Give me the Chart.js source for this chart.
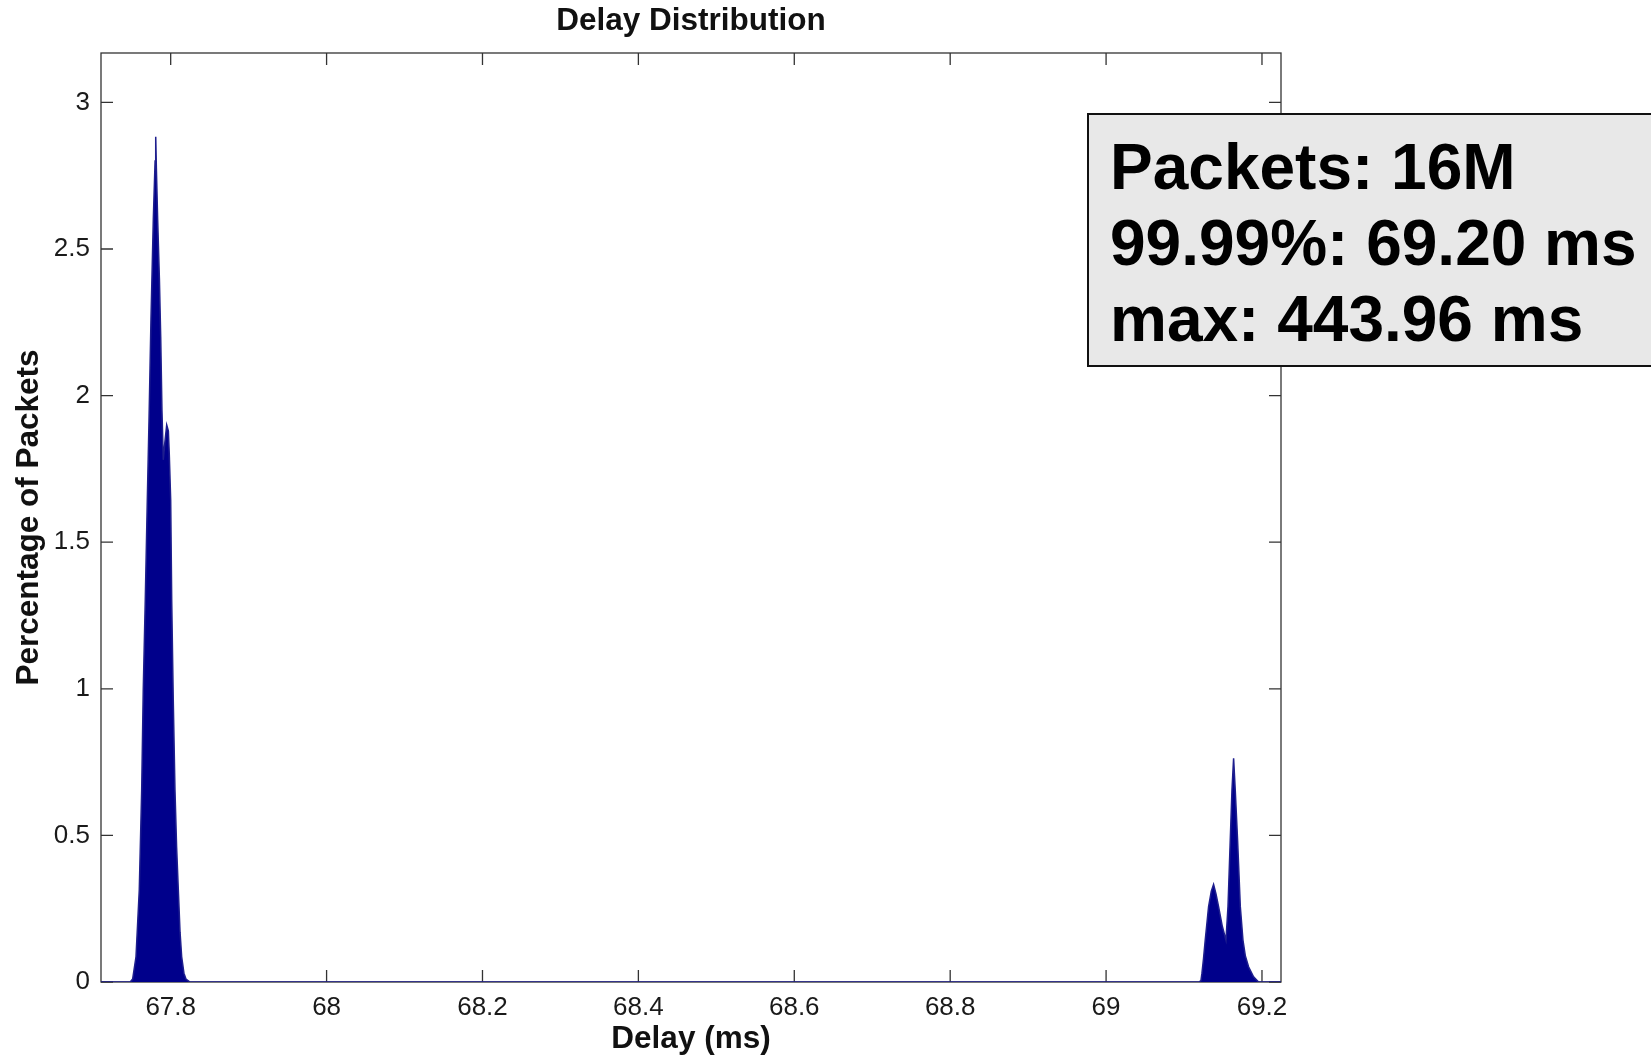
<!DOCTYPE html>
<html>
<head>
<meta charset="utf-8">
<title>Delay Distribution</title>
<script src="https://cdn.jsdelivr.net/npm/chart.js@4.4.1/dist/chart.umd.min.js"></script>
<style>
  html, body { margin: 0; padding: 0; background: #ffffff; }
  canvas { display: block; }
</style>
</head>
<body>
<canvas id="delayChart" width="1651" height="1058"></canvas>
<script>
// Histogram of packet delay (ms) vs share of packets (%)
const delayMs = [
  67.7106, 67.7480, 67.7512, 67.7555, 67.7597, 67.7628, 67.7648, 67.7674, 67.7700,
  67.7722, 67.7747, 67.7777, 67.7800, 67.7808, 67.7816, 67.7833, 67.7855, 67.7872,
  67.7888, 67.7905, 67.7925, 67.7949, 67.7970, 67.7982, 67.8000, 67.8013, 67.8033,
  67.8055, 67.8076, 67.8098, 67.8120, 67.8141, 67.8170, 67.8196, 67.8248,
  69.1190, 69.1217, 69.1230, 69.1250, 69.1272, 69.1315, 69.1350, 69.1379, 69.1410,
  69.1443, 69.1491, 69.1538, 69.1564, 69.1593, 69.1615, 69.1636, 69.1657, 69.1687,
  69.1722, 69.1756, 69.1786, 69.1828, 69.1892, 69.1956, 69.2244
];
const packetPct = [
  0, 0, 0.01, 0.086, 0.314, 0.655, 0.996, 1.303, 1.644,
  1.917, 2.259, 2.600, 2.800, 2.883, 2.780, 2.600, 2.400, 2.200,
  1.950, 1.781, 1.840, 1.900, 1.880, 1.800, 1.644, 1.303, 0.962,
  0.655, 0.460, 0.314, 0.170, 0.086, 0.030, 0.010, 0,
  0, 0.005, 0.030, 0.080, 0.143, 0.257, 0.310, 0.333, 0.300,
  0.257, 0.190, 0.143, 0.257, 0.484, 0.655, 0.763, 0.655, 0.484,
  0.257, 0.143, 0.090, 0.052, 0.018, 0, 0
];

const xTicks = [67.8, 68, 68.2, 68.4, 68.6, 68.8, 69, 69.2];
const yTicks = [0, 0.5, 1, 1.5, 2, 2.5, 3];
const xRange = [67.7106, 69.2244];
const yRange = [0, 3.1685];

const statsLines = ['Packets: 16M', '99.99%: 69.20 ms', 'max: 443.96 ms'];

const FONT = '"Liberation Sans", Arial, Helvetica, sans-serif';
const TICK_LEN = 12;

// Box frame with inward tick marks on all four sides
const axesFrame = {
  id: 'axesFrame',
  beforeDatasetsDraw(chart) {
    const { ctx, chartArea: a, scales: { x, y } } = chart;
    ctx.save();
    ctx.strokeStyle = '#333333';
    ctx.lineWidth = 1.3;
    ctx.strokeRect(a.left, a.top, a.right - a.left, a.bottom - a.top);
    ctx.beginPath();
    xTicks.forEach(v => {
      const px = x.getPixelForValue(v);
      ctx.moveTo(px, a.bottom); ctx.lineTo(px, a.bottom - TICK_LEN);
      ctx.moveTo(px, a.top);    ctx.lineTo(px, a.top + TICK_LEN);
    });
    yTicks.forEach(v => {
      const py = y.getPixelForValue(v);
      ctx.moveTo(a.left, py);  ctx.lineTo(a.left + TICK_LEN, py);
      ctx.moveTo(a.right, py); ctx.lineTo(a.right - TICK_LEN, py);
    });
    ctx.stroke();
    ctx.restore();
  }
};

// Summary box in the upper right
const statsBox = {
  id: 'statsBox',
  afterDraw(chart) {
    const { ctx, chartArea: a } = chart;
    const left = a.right - 193;
    const top = a.top + 61;
    ctx.save();
    ctx.fillStyle = '#e8e8e8';
    ctx.fillRect(left, top, 700, 252);
    ctx.strokeStyle = '#111111';
    ctx.lineWidth = 2;
    ctx.strokeRect(left, top, 700, 252);
    ctx.fillStyle = '#000000';
    ctx.font = 'bold 64px ' + FONT;
    ctx.textBaseline = 'alphabetic';
    ctx.textAlign = 'left';
    statsLines.forEach((t, i) => ctx.fillText(t, left + 22, top + 75 + i * 76));
    ctx.restore();
  }
};

const points = delayMs.map((d, i) => ({ x: d, y: packetPct[i] }));

new Chart(document.getElementById('delayChart'), {
  type: 'line',
  data: {
    datasets: [{
      data: points,
      borderColor: '#1e1e8e',
      borderWidth: 1.5,
      backgroundColor: '#00008b',
      fill: 'origin',
      pointRadius: 0,
      tension: 0
    }]
  },
  options: {
    responsive: false,
    animation: false,
    devicePixelRatio: 1,
    layout: { padding: { left: 0, top: 0, right: 370, bottom: 0 } },
    plugins: {
      legend: { display: false },
      tooltip: { enabled: false },
      title: {
        display: true,
        text: 'Delay Distribution',
        fullSize: false,
        color: '#111111',
        font: { family: FONT, size: 31.5, weight: 'bold' },
        padding: { top: 2, bottom: 13.2 }
      }
    },
    scales: {
      x: {
        type: 'linear',
        min: xRange[0],
        max: xRange[1],
        afterFit(s) { s.height = 76; },
        afterBuildTicks(s) { s.ticks = xTicks.map(v => ({ value: v })); },
        grid: { display: false, drawTicks: false },
        border: { display: false },
        ticks: {
          autoSkip: false,
          maxRotation: 0,
          padding: 10,
          color: '#1a1a1a',
          font: { family: FONT, size: 26 },
          callback: v => String(v)
        },
        title: {
          display: true,
          text: 'Delay (ms)',
          color: '#111111',
          font: { family: FONT, size: 31.5, weight: 'bold' },
          padding: { top: 0, bottom: 0 }
        }
      },
      y: {
        type: 'linear',
        min: yRange[0],
        max: yRange[1],
        afterFit(s) { s.width = 101; },
        afterBuildTicks(s) { s.ticks = yTicks.map(v => ({ value: v })); },
        grid: { display: false, drawTicks: false },
        border: { display: false },
        ticks: {
          padding: 11,
          color: '#1a1a1a',
          font: { family: FONT, size: 26 },
          callback: v => String(v)
        },
        title: {
          display: true,
          text: 'Percentage of Packets',
          color: '#111111',
          font: { family: FONT, size: 31.5, weight: 'bold' },
          padding: { top: 10.5, bottom: 0 }
        }
      }
    }
  },
  plugins: [axesFrame, statsBox]
});
</script>
</body>
</html>
